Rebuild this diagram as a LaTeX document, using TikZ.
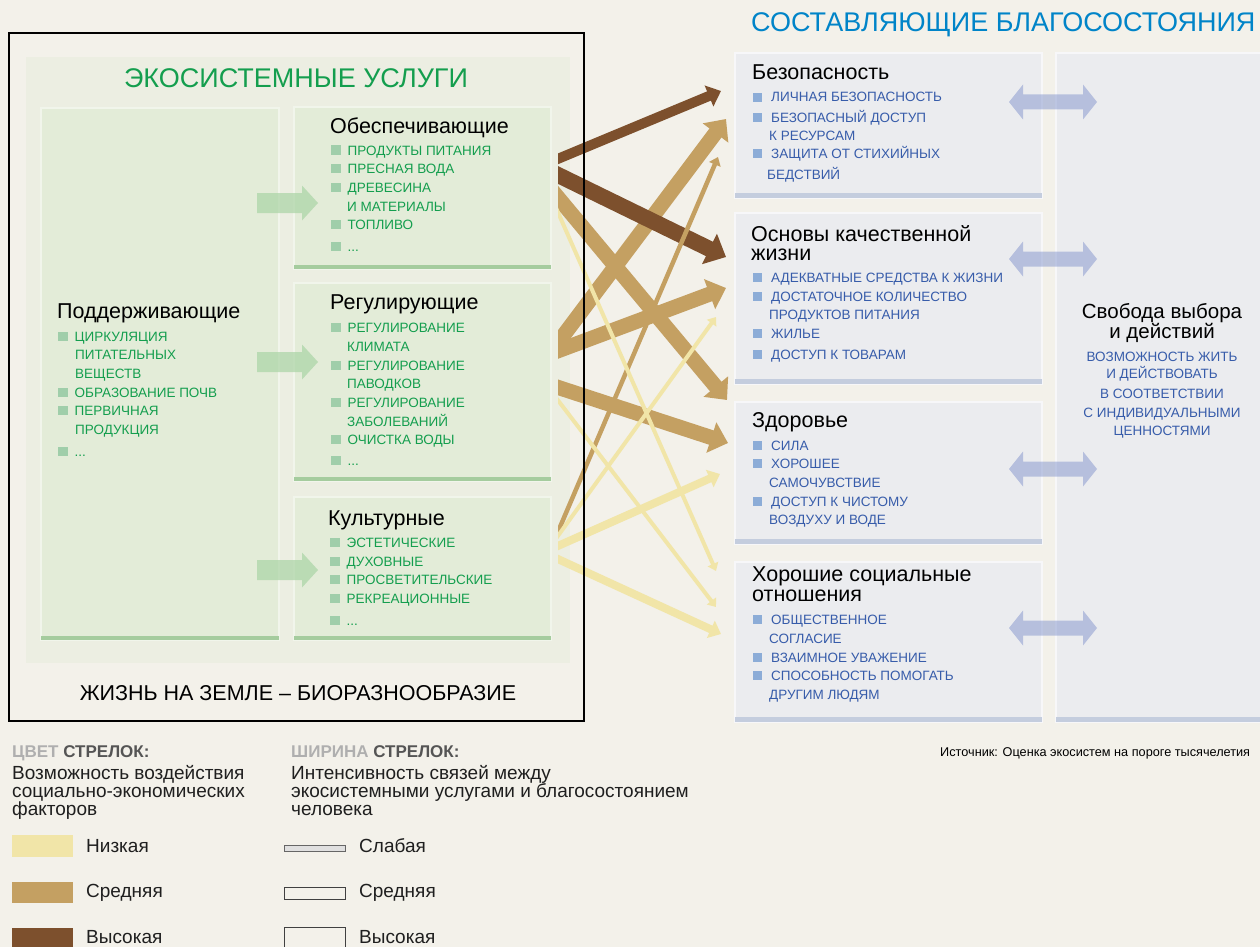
\documentclass[tikz,border=0pt]{standalone}
\usepackage{fontspec}
\setmainfont{Liberation Sans}
\usetikzlibrary{arrows.meta}

\definecolor{bg}{RGB}{243,241,234}
\definecolor{panel}{RGB}{236,238,226}
\definecolor{gbox}{RGB}{227,236,216}
\definecolor{gedge}{RGB}{165,204,158}
\definecolor{gtext}{RGB}{20,158,78}
\definecolor{gbul}{RGB}{160,206,170}
\definecolor{garrow}{RGB}{170,212,165}
\definecolor{bbox}{RGB}{235,236,239}
\definecolor{bedge}{RGB}{196,205,222}
\definecolor{btext}{RGB}{55,92,170}
\definecolor{btitle}{RGB}{0,132,200}
\definecolor{bbul}{RGB}{140,172,215}
\definecolor{barrow}{RGB}{130,148,205}
\definecolor{chigh}{RGB}{125,80,45}
\definecolor{cmid}{RGB}{196,160,98}
\definecolor{clow}{RGB}{241,229,168}
\definecolor{legray}{RGB}{175,175,175}
\definecolor{ledark}{RGB}{85,85,85}

\newcommand\fsz[1]{\fontsize{#1}{#1}\selectfont}
% square list bullets
\newcommand\gb{\textcolor{gbul}{\rule{9.5pt}{9.5pt}}\hspace{7pt}}
\newcommand\bb{\textcolor{bbul}{\rule{9pt}{9pt}}\hspace{9pt}}
% two-headed arrow centred on a coordinate
\newcommand\twoarrow[1]{\fill[twoway] ([xshift=-44pt]#1) -- ++(14,-17.5) -- ++(0,10) -- ++(60,0) -- ++(0,-10) -- ++(14,17.5) -- ++(-14,17.5) -- ++(0,-10) -- ++(-60,0) -- ++(0,10) -- cycle;}
% block arrow whose tip is at a coordinate
\newcommand\onearrow[1]{\fill[oneway] (#1) -- ++(-16,-17.5) -- ++(0,7.5) -- ++(-45,0) -- ++(0,20) -- ++(45,0) -- ++(0,7.5) -- cycle;}

\begin{document}
\begin{tikzpicture}[x=1pt,y=-1pt,
  gtxt/.style={anchor=base west, inner sep=0pt, text=gtext, font=\fsz{13.5}},
  btxt/.style={anchor=base west, inner sep=0pt, text=btext, font=\fsz{13.5}},
  bctr/.style={anchor=base, inner sep=0pt, text=btext, font=\fsz{13.5}},
  head/.style={anchor=base west, inner sep=0pt, text=black, font=\fsz{21.5}},
  boxnode/.style={anchor=north west, inner sep=0pt, outer sep=0pt},
  gpanel/.style={boxnode, fill=gbox, draw=gbox!50!white, line width=1.5pt},
  bpanel/.style={boxnode, fill=bbox, draw=bbox!40!white, line width=1.5pt},
  gbottom/.style={draw=gedge, line width=4pt},
  bbottom/.style={draw=bedge, line width=5pt},
  flow/.style={line width=#1, line cap=butt, -{Triangle[length=4pt 0.9, width=4pt 1.8]}},
  twoway/.style={fill=barrow, fill opacity=0.5},
  oneway/.style={fill=garrow, fill opacity=0.7},
  legtxt/.style={anchor=base west, inner sep=0pt, font=\fsz{19}, text=black!88},
]
\useasboundingbox (0,0) rectangle (1260,947);
\fill[bg] (0,0) rectangle (1260,947);

% ---------- ecosystem services ----------
\node[boxnode, fill=panel, minimum width=544pt, minimum height=606pt] (panel) at (26,57) {};
\node[gpanel, minimum width=238pt, minimum height=532pt] (supp) at (41,108) {};
\node[gpanel, minimum width=257pt, minimum height=162pt] (prov) at (294,107) {};
\node[gpanel, minimum width=257pt, minimum height=198pt] (reg) at (294,283) {};
\node[gpanel, minimum width=257pt, minimum height=143pt] (cult) at (294,497) {};
\foreach \b in {supp,prov,reg,cult}
  \draw[gbottom] ([yshift=2pt]\b.south west) -- ([yshift=2pt]\b.south east);

\coordinate (g1) at (318,203);
\coordinate (g2) at (318,362);
\coordinate (g3) at (318,570);
\onearrow{g1}\onearrow{g2}\onearrow{g3}

\node[anchor=base, inner sep=0pt, text=gtext, font=\fsz{27}] (es-title) at (296,88) {ЭКОСИСТЕМНЫЕ УСЛУГИ};

\node[head] (supp-h) at (57,318) {Поддерживающие};
\node[gtxt] (supp-1) at (58,341) {\gb ЦИРКУЛЯЦИЯ};
\node[gtxt] (supp-1b) at (75,359) {ПИТАТЕЛЬНЫХ};
\node[gtxt] (supp-1c) at (75,378) {ВЕЩЕСТВ};
\node[gtxt] (supp-2) at (58,397) {\gb ОБРАЗОВАНИЕ ПОЧВ};
\node[gtxt] (supp-3) at (58,415) {\gb ПЕРВИЧНАЯ};
\node[gtxt] (supp-3b) at (75,434) {ПРОДУКЦИЯ};
\node[gtxt] (supp-4) at (58,456) {\gb ...};

\node[head] (prov-h) at (330,134) {Обеспечивающие};
\node[gtxt] (prov-1) at (331,155) {\gb ПРОДУКТЫ ПИТАНИЯ};
\node[gtxt] (prov-2) at (331,173) {\gb ПРЕСНАЯ ВОДА};
\node[gtxt] (prov-3) at (331,192) {\gb ДРЕВЕСИНА};
\node[gtxt] (prov-3b) at (347,211) {И МАТЕРИАЛЫ};
\node[gtxt] (prov-4) at (331,229) {\gb ТОПЛИВО};
\node[gtxt] (prov-5) at (331,251) {\gb ...};

\node[head] (reg-h) at (330,309) {Регулирующие};
\node[gtxt] (reg-1) at (331,332) {\gb РЕГУЛИРОВАНИЕ};
\node[gtxt] (reg-1b) at (347,351) {КЛИМАТА};
\node[gtxt] (reg-2) at (331,370) {\gb РЕГУЛИРОВАНИЕ};
\node[gtxt] (reg-2b) at (347,388) {ПАВОДКОВ};
\node[gtxt] (reg-3) at (331,407) {\gb РЕГУЛИРОВАНИЕ};
\node[gtxt] (reg-3b) at (347,426) {ЗАБОЛЕВАНИЙ};
\node[gtxt] (reg-4) at (331,444) {\gb ОЧИСТКА ВОДЫ};
\node[gtxt] (reg-5) at (331,465) {\gb ...};

\node[head] (cult-h) at (328,525) {Культурные};
\node[gtxt] (cult-1) at (330,547) {\gb ЭСТЕТИЧЕСКИЕ};
\node[gtxt] (cult-2) at (330,566) {\gb ДУХОВНЫЕ};
\node[gtxt] (cult-3) at (330,584) {\gb ПРОСВЕТИТЕЛЬСКИЕ};
\node[gtxt] (cult-4) at (330,603) {\gb РЕКРЕАЦИОННЫЕ};
\node[gtxt] (cult-5) at (330,625) {\gb ...};

% ---------- links between services and well-being ----------
\coordinate (a1s) at (540,166.3);  \coordinate (a1e) at (721,91);
\coordinate (a2s) at (540,166.2);  \coordinate (a2e) at (726,257);
\coordinate (a3s) at (540,176);    \coordinate (a3e) at (727,400);
\coordinate (a4s) at (540,171.6);  \coordinate (a4e) at (716,571);
\coordinate (a5s) at (540,366.6);  \coordinate (a5e) at (726,119);
\coordinate (a6s) at (540,357.5);  \coordinate (a6e) at (726,288);
\coordinate (a7s) at (540,381.5);  \coordinate (a7e) at (728,443);
\coordinate (a8s) at (540,376.8);  \coordinate (a8e) at (716,607);
\coordinate (a9s) at (540,573.8);  \coordinate (a9e) at (718,157);
\coordinate (a10s) at (540,560.7); \coordinate (a10e) at (716,317);
\coordinate (a11s) at (540,553.9); \coordinate (a11e) at (720,474);
\coordinate (a12s) at (540,550.8); \coordinate (a12e) at (721,634);
\begin{scope}
  \clip (558,40) rectangle (760,720);
  \draw[cmid, flow=15pt] (a5s) -- (a5e);
  \draw[cmid, flow=15pt] (a6s) -- (a6e);
  \draw[cmid, flow=15pt] (a7s) -- (a7e);
  \draw[cmid, flow=15pt] (a3s) -- (a3e);
  \draw[chigh, flow=16pt] (a2s) -- (a2e);
  \draw[chigh, flow=10pt] (a1s) -- (a1e);
  \draw[cmid, flow=4.5pt] (a9s) -- (a9e);
  \draw[clow, flow=4pt] (a4s) -- (a4e);
  \draw[clow, flow=4pt] (a8s) -- (a8e);
  \draw[clow, flow=4pt] (a10s) -- (a10e);
  \draw[clow, flow=8pt] (a11s) -- (a11e);
  \draw[clow, flow=8pt] (a12s) -- (a12e);
\end{scope}

\draw[black, line width=2.5pt] (9,33) rectangle (584,721);
\node[anchor=base, inner sep=0pt, font=\fsz{21.5}] (life) at (298,700) {ЖИЗНЬ НА ЗЕМЛЕ – БИОРАЗНООБРАЗИЕ};

% ---------- constituents of well-being ----------
\node[anchor=base west, inner sep=0pt, text=btitle, font=\fsz{27}] (wb-title) at (751,32) {СОСТАВЛЯЮЩИЕ БЛАГОСОСТОЯНИЯ};

\node[bpanel, minimum width=307pt, minimum height=145pt] (sec) at (735,53) {};
\node[bpanel, minimum width=307pt, minimum height=171pt] (mat) at (735,213) {};
\node[bpanel, minimum width=307pt, minimum height=142pt] (hea) at (735,402) {};
\node[bpanel, minimum width=307pt, minimum height=160pt] (soc) at (735,562) {};
\node[bpanel, minimum width=220pt, minimum height=669pt] (free) at (1056,53) {};
\foreach \b in {sec,mat,hea,soc,free}
  \draw[bbottom] ([yshift=2.5pt]\b.south west) -- ([yshift=2.5pt]\b.south east);

\coordinate (d1) at (1053,102);
\coordinate (d2) at (1053,259);
\coordinate (d3) at (1053,469);
\coordinate (d4) at (1053,628);
\twoarrow{d1}\twoarrow{d2}\twoarrow{d3}\twoarrow{d4}

\node[head] (sec-h) at (752,80) {Безопасность};
\node[btxt] (sec-1) at (753,102) {\bb ЛИЧНАЯ БЕЗОПАСНОСТЬ};
\node[btxt] (sec-2) at (753,122) {\bb БЕЗОПАСНЫЙ ДОСТУП};
\node[btxt] (sec-2b) at (769,140) {К РЕСУРСАМ};
\node[btxt] (sec-3) at (753,158) {\bb ЗАЩИТА ОТ СТИХИЙНЫХ};
\node[btxt] (sec-3b) at (767,179) {БЕДСТВИЙ};

\node[head] (mat-h) at (751,241) {Основы качественной};
\node[head] (mat-h2) at (751,260) {жизни};
\node[btxt] (mat-1) at (753,282) {\bb АДЕКВАТНЫЕ СРЕДСТВА К ЖИЗНИ};
\node[btxt] (mat-2) at (753,301) {\bb ДОСТАТОЧНОЕ КОЛИЧЕСТВО};
\node[btxt] (mat-2b) at (769,319) {ПРОДУКТОВ ПИТАНИЯ};
\node[btxt] (mat-3) at (753,338) {\bb ЖИЛЬЕ};
\node[btxt] (mat-4) at (753,359) {\bb ДОСТУП К ТОВАРАМ};

\node[head] (hea-h) at (752,427) {Здоровье};
\node[btxt] (hea-1) at (753,450) {\bb СИЛА};
\node[btxt] (hea-2) at (753,468) {\bb ХОРОШЕЕ};
\node[btxt] (hea-2b) at (769,487) {САМОЧУВСТВИЕ};
\node[btxt] (hea-3) at (753,506) {\bb ДОСТУП К ЧИСТОМУ};
\node[btxt] (hea-3b) at (769,524) {ВОЗДУХУ И ВОДЕ};

\node[head] (soc-h) at (752,581) {Хорошие социальные};
\node[head] (soc-h2) at (752,601) {отношения};
\node[btxt] (soc-1) at (753,624) {\bb ОБЩЕСТВЕННОЕ};
\node[btxt] (soc-1b) at (769,643) {СОГЛАСИЕ};
\node[btxt] (soc-2) at (753,662) {\bb ВЗАИМНОЕ УВАЖЕНИЕ};
\node[btxt] (soc-3) at (753,680) {\bb СПОСОБНОСТЬ ПОМОГАТЬ};
\node[btxt] (soc-3b) at (769,699) {ДРУГИМ ЛЮДЯМ};

\node[anchor=base, inner sep=0pt, font=\fsz{20.5}] (free-h) at (1162,318) {Свобода выбора};
\node[anchor=base, inner sep=0pt, font=\fsz{20.5}] (free-h2) at (1162,338) {и действий};
\node[bctr] (free-1) at (1162,361) {ВОЗМОЖНОСТЬ ЖИТЬ};
\node[bctr] (free-2) at (1162,378) {И ДЕЙСТВОВАТЬ};
\node[bctr] (free-3) at (1162,398) {В СООТВЕТСТВИИ};
\node[bctr] (free-4) at (1162,417) {С ИНДИВИДУАЛЬНЫМИ};
\node[bctr] (free-5) at (1162,435) {ЦЕННОСТЯМИ};

\node[anchor=base west, inner sep=0pt, font=\fsz{12.7}] (src) at (940,756) {Источник: Оценка экосистем на пороге тысячелетия};

% ---------- legend ----------
\node[legtxt, font=\bfseries\fsz{17}] (col-h) at (12,757) {\textcolor{legray}{ЦВЕТ} \textcolor{ledark}{СТРЕЛОК:}};
\node[legtxt] (col-1) at (12,779) {Возможность воздействия};
\node[legtxt] (col-2) at (12,797) {социально-экономических};
\node[legtxt] (col-3) at (12,815) {факторов};
\node[legtxt, font=\bfseries\fsz{17}] (wid-h) at (291,757) {\textcolor{legray}{ШИРИНА} \textcolor{ledark}{СТРЕЛОК:}};
\node[legtxt] (wid-1) at (291,779) {Интенсивность связей между};
\node[legtxt] (wid-2) at (291,797) {экосистемными услугами и благосостоянием};
\node[legtxt] (wid-3) at (291,815) {человека};

\fill[clow] (12,835) rectangle (73,857);
\fill[cmid] (12,882) rectangle (73,903);
\fill[chigh] (12,928) rectangle (73,950);
\node[legtxt] (col-lo) at (86,852) {Низкая};
\node[legtxt] (col-mid) at (86,897) {Средняя};
\node[legtxt] (col-hi) at (86,943) {Высокая};

\draw[draw=black!60, fill=black!12, line width=1pt] (284,845) rectangle (345,851);
\draw[draw=black!75, fill=bg, line width=1pt] (284,887) rectangle (345,899);
\draw[draw=black!75, fill=bg, line width=1pt] (284,927) rectangle (345,955);
\node[legtxt] (wid-lo) at (359,852) {Слабая};
\node[legtxt] (wid-mid) at (359,897) {Средняя};
\node[legtxt] (wid-hi) at (359,943) {Высокая};
\end{tikzpicture}
\end{document}
